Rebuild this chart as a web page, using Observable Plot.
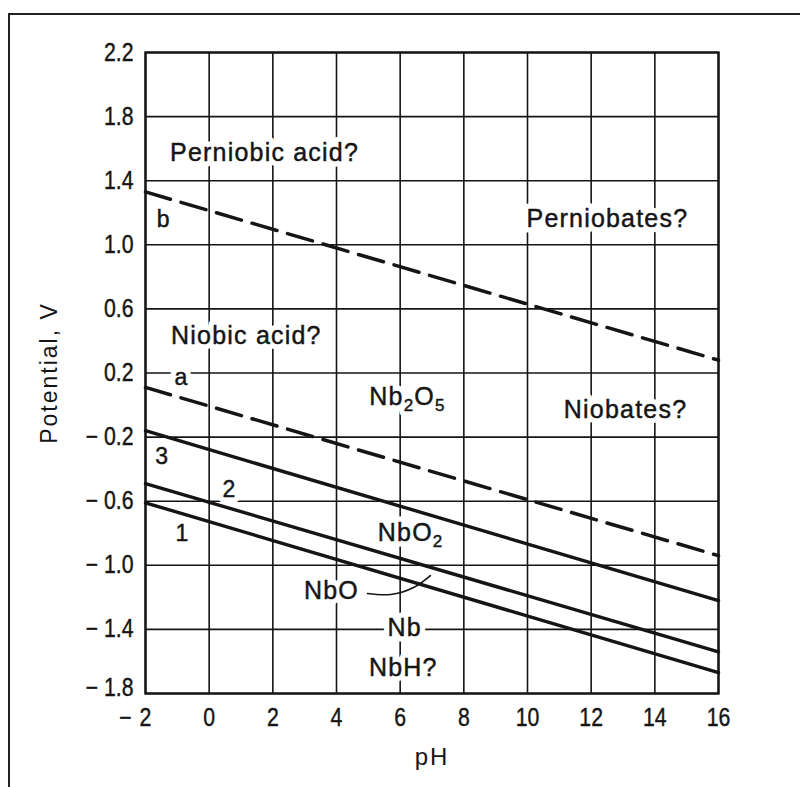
<!DOCTYPE html>
<html>
<head>
<meta charset="utf-8">
<script src="https://cdn.jsdelivr.net/npm/d3@7"></script>
<script src="https://cdn.jsdelivr.net/npm/@observablehq/plot@0.6"></script>
<style>
  html, body { margin: 0; padding: 0; background: #fff; }
  #page { position: relative; width: 800px; height: 787px; overflow: hidden; }
  #border { position: absolute; left: 8px; top: 13px; width: 820px; height: 820px;
            border-top: 2px solid #222; border-left: 2px solid #222; }
  #chart { position: absolute; left: 0; top: 0; }
  g.species text, g.tags text { letter-spacing: 1.2px; }
  g.title text { letter-spacing: 2px; }
</style>
</head>
<body>
<div id="page"><div id="border"></div><div id="chart"></div></div>
<script>
// Potential–pH diagram for niobium in water at 25 °C.

// Axis ticks
const phTicks = [-2, 0, 2, 4, 6, 8, 10, 12, 14, 16];
const eTicks = [2.2, 1.8, 1.4, 1.0, 0.6, 0.2, -0.2, -0.6, -1.0, -1.4, -1.8];

// Equilibrium lines, each given by its potential (V) at pH -2 and pH 16
const lineIds = ["b", "a", "3", "2", "1"];
const lineDashed = [true, true, false, false, false];
const linePH = [-2, 16];
const lineEStart = [1.33, 0.11, -0.16, -0.49, -0.61];
const lineEEnd = [0.28, -0.94, -1.22, -1.54, -1.67];

// Line tags
const tagText = ["b", "a", "3", "2", "1"];
const tagPH = [-1.43, -0.87, -1.47, 0.64, -0.84];
const tagE = [1.16, 0.17, -0.32, -0.53, -0.80];

// Stability-domain names
const regionNames = ["Perniobic acid?", "Perniobates?", "Niobic acid?", "Niobates?",
                     "Nb2O5", "NbO2", "NbO", "Nb", "NbH?"];
const regionPH = [1.74, 12.51, 1.17, 13.08, 6.23, 6.33, 3.84, 6.14, 6.10];
const regionE = [1.57, 1.16, 0.43, -0.03, 0.05, -0.80, -1.16, -1.39, -1.64];

// Leader from the "NbO" label into the NbO band
const leaderPH = [4.97, 5.70, 6.42, 6.95];
const leaderE = [-1.176, -1.182, -1.139, -1.064];

const boundaries = lineIds.flatMap((id, i) => [
  {id, dashed: lineDashed[i], pH: linePH[0], E: lineEStart[i]},
  {id, dashed: lineDashed[i], pH: linePH[1], E: lineEEnd[i]}
]);
const regions = regionNames.map((name, i) => ({name, pH: regionPH[i], E: regionE[i]}));
const tags = tagText.map((t, i) => ({t, pH: tagPH[i], E: tagE[i]}));
const leader = leaderPH.map((p, i) => ({pH: p, E: leaderE[i]}));

const sans = "'Liberation Sans', Arial, Helvetica, sans-serif";
const ink = "#151515";
const fmtE = d => (d < 0 ? "\u2212 " : "") + d3.format(".1f")(Math.abs(d));
const fmtPH = d => String(Math.abs(d));

// Labels get a white knock-out behind them, then the inked text on top
const labelLayers = (data, text, size, cls) => [
  Plot.text(data, {x: "pH", y: "E", text, fontFamily: sans, fontSize: size,
                   fill: "white", stroke: "white", strokeWidth: 11,
                   strokeLinejoin: "round", className: cls}),
  Plot.text(data, {x: "pH", y: "E", text, fontFamily: sans, fontSize: size,
                   fill: ink, stroke: ink, strokeWidth: 0.45, className: cls})
];

const chart = Plot.plot({
  width: 800,
  height: 787,
  marginLeft: 145,
  marginRight: 82,
  marginTop: 52,
  marginBottom: 94,
  x: {domain: [-2, 16]},
  y: {domain: [-1.8, 2.2]},
  style: {fontFamily: sans, fontSize: "24px", color: ink, background: "transparent"},
  marks: [
    Plot.ruleX(phTicks, {stroke: ink, strokeWidth: 1.6}),
    Plot.ruleY(eTicks, {stroke: ink, strokeWidth: 1.6}),
    Plot.axisX({ticks: phTicks, tickSize: 0, tickPadding: 15, tickFormat: fmtPH,
                label: null, fontFamily: sans, fontSize: 25, fill: ink}),
    // minus sign of the negative pH tick, hanging left of the centred digit
    Plot.text(phTicks.filter(d => d < 0), {x: d => d, text: () => "\u2212", frameAnchor: "bottom",
                dy: 24, dx: -20, lineAnchor: "middle", fontFamily: sans, fontSize: 25,
                fill: ink, className: "ticklabel"}),
    Plot.axisY({ticks: eTicks, tickSize: 0, tickPadding: 12, tickFormat: fmtE,
                label: null, fontFamily: sans, fontSize: 25, fill: ink}),
    ...labelLayers(regions, "name", 25, "species"),
    ...labelLayers(tags, "t", 23, "tags"),
    Plot.line(leader, {x: "pH", y: "E", curve: "natural", stroke: ink, strokeWidth: 1.6}),
    Plot.line(boundaries, {filter: d => d.dashed, x: "pH", y: "E", z: "id",
                           stroke: ink, strokeWidth: 3.5, strokeDasharray: "26,11"}),
    Plot.line(boundaries, {filter: d => !d.dashed, x: "pH", y: "E", z: "id",
                           stroke: ink, strokeWidth: 3.4}),
    Plot.frame({stroke: ink, strokeWidth: 2.4}),
    Plot.text(["Potential, V"], {text: d => d, frameAnchor: "left", dx: -96, rotate: -90,
                                 textAnchor: "middle", lineAnchor: "middle",
                                 fontFamily: sans, fontSize: 23, fill: ink, className: "title"}),
    Plot.text(["pH"], {text: d => d, frameAnchor: "bottom", dy: 64, textAnchor: "middle",
                       lineAnchor: "middle", fontFamily: sans, fontSize: 24, fill: ink,
                       className: "title"})
  ]
});

// Chemical formulas: set the digits as subscripts
d3.select(chart).selectAll("g.species text").each(function () {
  const label = this.textContent;
  if (!/\d/.test(label)) return;
  const node = d3.select(this);
  node.text(null);
  let low = false;
  label.split(/(\d)/).filter(s => s).forEach(part => {
    const isDigit = /\d/.test(part);
    const span = node.append("tspan").text(part);
    if (isDigit) {
      span.attr("font-size", 17);
      if (!low) { span.attr("dy", 6); low = true; }
    } else if (low) { span.attr("dy", -6); low = false; }
  });
});

// Tick numerals are set in a condensed, slightly heavier face; the lowest
// potential label is lifted clear of the pH numerals beneath it
const squeeze = 0.85;
const lowest = fmtE(d3.min(eTicks));
d3.select(chart)
  .selectAll('g[aria-label="x-axis tick label"] text, g[aria-label="y-axis tick label"] text, g.ticklabel text')
  .each(function () {
    let t = this.getAttribute("transform");
    if (!t) {
      const x = +this.getAttribute("x") || 0, y = +this.getAttribute("y") || 0;
      this.removeAttribute("x"); this.removeAttribute("y");
      t = `translate(${x},${y})`;
    }
    const lift = this.textContent === lowest ? "translate(0,-6) " : "";
    this.setAttribute("transform", `${lift}${t} scale(${squeeze},1)`);
    this.setAttribute("stroke", ink);
    this.setAttribute("stroke-width", 0.4);
  });

document.getElementById("chart").append(chart);
</script>
</body>
</html>
